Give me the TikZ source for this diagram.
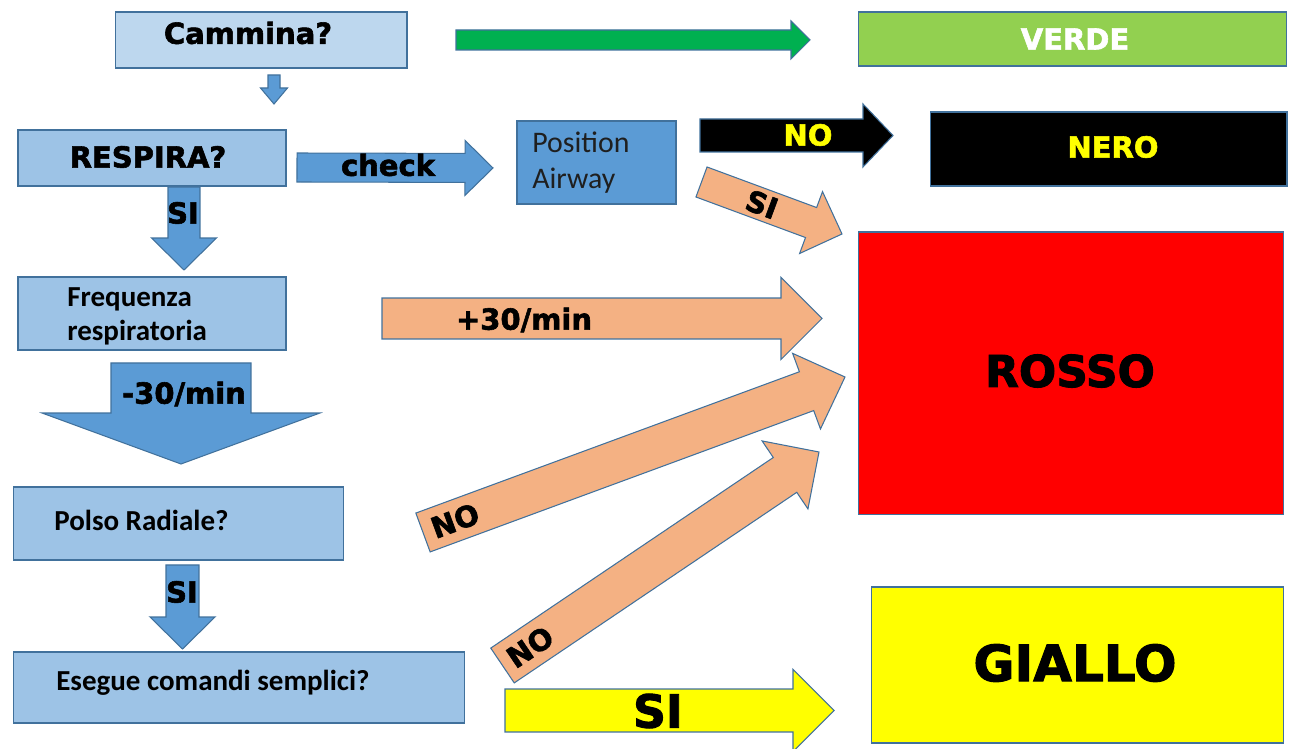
\documentclass[tikz,border=0pt]{standalone}
\usepackage{fontspec}
\setmainfont{DejaVu Sans}[BoldFeatures={FakeBold=2}]
\newfontfamily\calibri{Carlito}
\usetikzlibrary{calc}

\definecolor{edgeblue}{HTML}{41719C}
\definecolor{paleblue}{HTML}{BDD7EE}
\definecolor{lightblue}{HTML}{9DC3E6}
\definecolor{midblue}{HTML}{5B9BD5}
\definecolor{salmon}{HTML}{F4B183}
\definecolor{grassgreen}{HTML}{00B050}
\definecolor{limegreen}{HTML}{92D050}
\definecolor{signred}{HTML}{FF0000}
\definecolor{signyellow}{HTML}{FFFF00}
\definecolor{darktext}{HTML}{1F1F1F}

\newcommand{\px}{0.569pt}

\tikzset{
  blockarrow/.style n args={3}{to path={
    let \p1=(\tikztostart), \p2=(\tikztotarget),
        \n1={atan2(\y2-\y1,\x2-\x1)} in
    ($(\p1)+(\n1+90:#1*\px)$)
    -- ($(\p2)+(\n1+180:#3*\px)+(\n1+90:#1*\px)$)
    -- ($(\p2)+(\n1+180:#3*\px)+(\n1+90:#2*\px)$)
    -- (\p2)
    -- ($(\p2)+(\n1+180:#3*\px)+(\n1-90:#2*\px)$)
    -- ($(\p2)+(\n1+180:#3*\px)+(\n1-90:#1*\px)$)
    -- ($(\p1)+(\n1-90:#1*\px)$) -- cycle}},
}

\begin{document}
\begin{tikzpicture}[x=0.02cm, y=-0.02cm,
  box/.style={draw=edgeblue, line width=0.6pt, inner sep=0pt, outer sep=0pt},
  bigtext/.style={font=\bfseries\fontsize{16.5}{19}\selectfont, inner sep=0pt},
  softtext/.style={font=\calibri\bfseries\fontsize{16.5}{19.3}\selectfont, inner sep=0pt, anchor=west, align=left},
  arrowbody/.style={draw=edgeblue, line width=0.6pt}]
\useasboundingbox (0,0) rectangle (1289,749);

% boxes on the left
\node[box, fill=paleblue, minimum width=5.84cm, minimum height=1.12cm] (cammina) at (261,40) {};
\node[box, fill=lightblue, minimum width=5.36cm, minimum height=1.12cm] (respira) at (152,158) {};
\node[box, fill=lightblue, minimum width=5.36cm, minimum height=1.46cm] (freq) at (152,313.5) {};
\node[box, fill=lightblue, minimum width=6.62cm, minimum height=1.46cm] (polso) at (178.5,523.5) {};
\node[box, fill=lightblue, minimum width=9.04cm, minimum height=1.42cm] (esegue) at (239,687.5) {};
\node[box, fill=midblue, minimum width=3.18cm, minimum height=1.66cm] (airway) at (596.5,162.5) {};

% colour codes on the right
\node[box, fill=limegreen, minimum width=8.58cm, minimum height=1.08cm] (verde) at (1072.5,39) {};
\node[box, fill=black, minimum width=7.14cm, minimum height=1.48cm] (nero) at (1108.5,149) {};
\node[box, fill=signred, minimum width=8.52cm, minimum height=5.66cm] (rosso) at (1071,373.5) {};
\node[box, fill=signyellow, minimum width=8.26cm, minimum height=3.12cm] (giallo) at (1077.5,665) {};

% arrow ends
\coordinate (walkS) at (274,75);     \coordinate (walkE) at (274,104);
\coordinate (si1S) at (184,187);     \coordinate (si1E) at (184,270);
\coordinate (slowS) at (181,363);    \coordinate (slowE) at (181,464);
\coordinate (si2S) at (182.5,565);   \coordinate (si2E) at (182.5,649);
\coordinate (checkS) at (297,167.5); \coordinate (checkE) at (493,168);
\coordinate (greenS) at (456,40);    \coordinate (greenE) at (810,40);
\coordinate (noS) at (700,135.5);    \coordinate (noE) at (893,135.5);
\coordinate (siAS) at (701.5,182);   \coordinate (siAE) at (842,234);
\coordinate (fastS) at (382,318.5);  \coordinate (fastE) at (822,318.5);
\coordinate (noAS) at (423,532.5);   \coordinate (noAE) at (845,377);
\coordinate (noBS) at (502.5,665.5); \coordinate (noBE) at (819,452);
\coordinate (siYS) at (505,710.5);   \coordinate (siYE) at (834,710.5);

\path[arrowbody, fill=midblue, blockarrow={6}{13.5}{16}] (walkS) to (walkE);
\path[arrowbody, fill=midblue, blockarrow={16}{32.5}{32}] (si1S) to (si1E);
\path[arrowbody, fill=midblue, blockarrow={70}{139}{51}] (slowS) to (slowE);
\path[arrowbody, fill=midblue, blockarrow={16.5}{32.5}{32}] (si2S) to (si2E);
\path[arrowbody, fill=midblue, blockarrow={14.5}{27.5}{28}] (checkS) to (checkE);
\path[arrowbody, fill=grassgreen, blockarrow={10}{19}{19}] (greenS) to (greenE);
\path[arrowbody, fill=black, blockarrow={16.5}{31.5}{30}] (noS) to (noE);
\path[arrowbody, fill=salmon, blockarrow={16}{33}{33}] (siAS) to (siAE);
\path[arrowbody, fill=salmon, blockarrow={20.5}{41}{41}] (fastS) to (fastE);
\path[arrowbody, fill=salmon, blockarrow={20.7}{40.3}{41}] (noAS) to (noAE);
\path[arrowbody, fill=salmon, blockarrow={21}{41}{41}] (noBS) to (noBE);
\path[arrowbody, fill=signyellow, blockarrow={21.5}{41}{41}] (siYS) to (siYE);

% texts
\node[bigtext] (camminaT) at (248,33) {Cammina?};
\node[bigtext] (respiraT) at (148,157) {RESPIRA?};
\node[bigtext] (checkT) at (388,165) {check};
\node[bigtext] (si1T) at (183,213) {SI};
\node[softtext] (freqT) at (67,316) {Frequenza\\respiratoria};
\node[bigtext] (slowT) at (184,394) {-30/min};
\node[softtext] (polsoT) at (54,520) {Polso Radiale?};
\node[bigtext] (si2T) at (182,592) {SI};
\node[softtext] (esegueT) at (56,683) {Esegue comandi semplici?};
\node[softtext, font=\calibri\fontsize{17}{20.5}\selectfont, text=darktext] (airwayT) at (532,163) {Position\\Airway};
\node[bigtext] (fastT) at (524,320) {+30/min};
\node[bigtext, text=white] (verdeT) at (1075,39) {VERDE};
\node[bigtext, text=signyellow] (neroT) at (1113,147) {NERO};
\node[bigtext, text=signyellow] (noT) at (808,135) {NO};
\node[bigtext, font=\bfseries\fontsize{25}{28}\selectfont] (rossoT) at (1070,371) {ROSSO};
\node[bigtext, font=\bfseries\fontsize{28.5}{32}\selectfont] (gialloT) at (1075,663) {GIALLO};
\node[bigtext, font=\bfseries\fontsize{26}{30}\selectfont] (siYT) at (658,711) {SI};
\path (siAS) -- (siAE) node[bigtext, sloped, pos=0.43] (siAT) {SI};
\path (noAS) -- (noAE) node[bigtext, sloped, pos=0.076] (noAT) {NO};
\path (noBS) -- (noBE) node[bigtext, sloped, pos=0.087] (noBT) {NO};
\end{tikzpicture}
\end{document}
